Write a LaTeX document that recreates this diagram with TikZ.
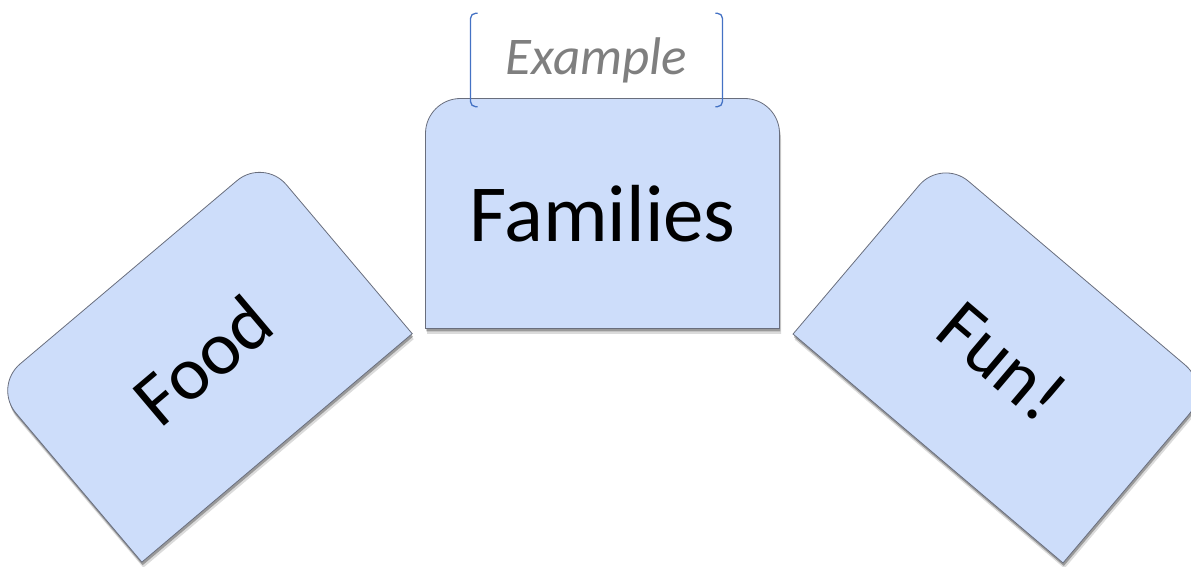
\documentclass[tikz,border=0pt]{standalone}
\usepackage{fontspec}
\setmainfont{Carlito}
\usetikzlibrary{positioning}

\definecolor{cardblue}{RGB}{205,221,250}
\definecolor{cardrim}{RGB}{105,110,125}
\definecolor{bracketblue}{RGB}{68,114,196}
\definecolor{notegray}{RGB}{127,127,127}

\tikzset{
  % card with the two top corners rounded, 354 x 230
  card outline/.style={insert path={(-177,-115) -- (-177,80)
      arc[start angle=180, end angle=90, radius=35pt] -- (142,115)
      arc[start angle=90, end angle=0, radius=35pt] -- (177,-115) -- cycle}},
  pics/card/.style n args={2}{code={
    \fill[black, opacity=.14, transform canvas={xshift=1.5pt, yshift=-5.5pt}, card outline];
    \fill[black, opacity=.30, transform canvas={xshift=.8pt, yshift=-3pt}, card outline];
    \draw[cardrim, line width=.8pt, fill=cardblue, card outline];
    \node[transform shape, font=\fontsize{#2}{#2}\selectfont] (-text) {#1};
  }},
  note/.style={font=\itshape\fontsize{53}{60}\selectfont, text=notegray,
    inner xsep=35pt, inner ysep=0pt, minimum height=93pt},
  bracket/.style={bracketblue, line width=1.3pt, rounded corners=5pt}
}

\begin{document}
\begin{tikzpicture}[x=1pt, y=1pt]
\useasboundingbox (0,0) rectangle (1191,567);
\clip (0,0) rectangle (1191,567);

% the three cards
\pic[rotate=40.2] (food) at (202.8,206.9) {card={Food}{76}};
\pic[rotate=-40.3] (fun) at (1002.4,206.2) {card={Fun!}{76}};
\pic (families) at (602.5,353.5) {card={Families}{81}};

% label above the middle card
\node[note] (example) at (596.5,507) {Example};
\draw[bracket] ([xshift=7pt]example.north west) -- (example.north west)
  -- (example.south west) -- ([xshift=7pt]example.south west);
\draw[bracket] ([xshift=-7pt]example.north east) -- (example.north east)
  -- (example.south east) -- ([xshift=-7pt]example.south east);
\end{tikzpicture}
\end{document}
